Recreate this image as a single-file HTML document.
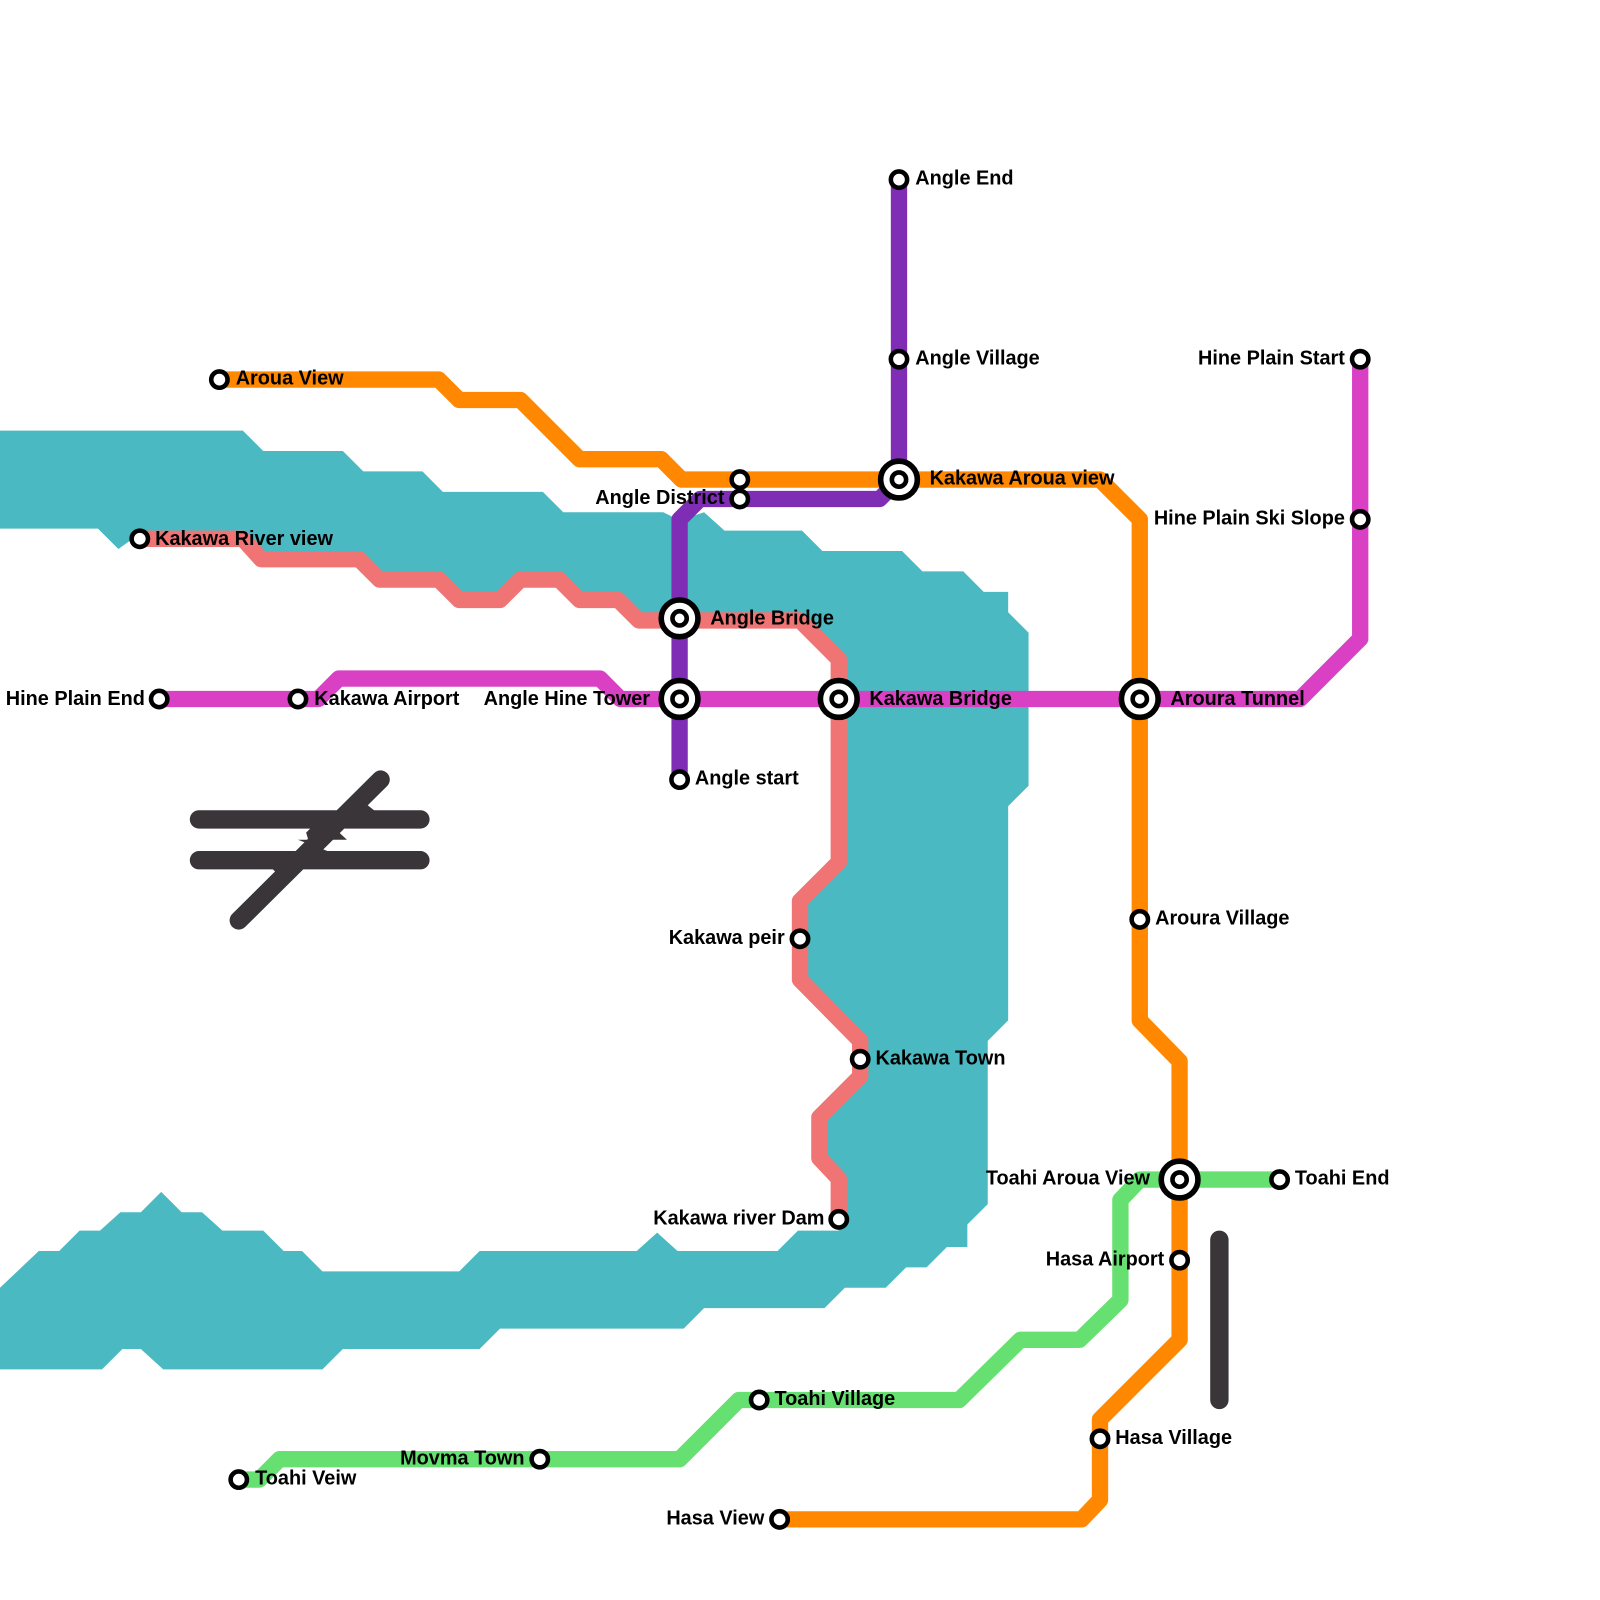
<!DOCTYPE html>
<html><head><meta charset="utf-8"><style>
html,body{margin:0;padding:0;background:#fff;}
svg{display:block}
text{font-family:"Liberation Sans",Arial,sans-serif;font-weight:bold;font-size:19.5px;fill:#000}
</style></head><body>
<svg width="1600" height="1600" viewBox="0 0 1568 1568" xmlns="http://www.w3.org/2000/svg">
<path fill="#4ab9c2" d="M0,422 L238,422 L258,442 L336,442 L356,462 L414,462 L434,482 L532,482 L552,502 L650,502 L666,510 L690,502 L710,520 L786,520 L806,540 L884,540 L904,560 L944,560 L964,580 L988,580 L988,600 L1008,620 L1008,770 L988,790 L988,1000 L968,1020 L968,1180 L948,1200 L948,1222 L928,1222 L908,1242 L888,1242 L868,1262 L828,1262 L808,1282 L690,1282 L670,1302 L490,1302 L470,1322 L336,1322 L316,1342 L160,1342 L138,1322 L120,1322 L100,1342 L0,1342 L0,1262 L38,1226 L58,1226 L78,1206 L98,1206 L118,1188 L138,1188 L158,1168 L178,1188 L198,1188 L218,1206 L258,1206 L278,1226 L296,1226 L316,1246 L450,1246 L470,1226 L624,1226 L644,1208 L664,1226 L762,1226 L782,1206 L822,1206 L822,1155 L803,1135 L803,1095 L843,1055 L843,1020 L784,960 L784,883 L822,845 L822,646 L784,608 L626,608 L606,588 L568,588 L548,568 L510,568 L490,588 L450,588 L430,568 L372,568 L352,548 L256,548 L238,528 L130,528 L116,538 L96,518 L0,518 Z"/>
<g fill="none" stroke-width="16" stroke-linejoin="round">
<path stroke="#f07474" d="M137,528 L238,528 L256,548 L352,548 L372,568 L430,568 L450,588 L490,588 L510,568 L548,568 L568,588 L606,588 L626,608 L784,608 L822,646 L822,845 L784,883 L784,960 L843,1020 L843,1055 L803,1095 L803,1135 L822,1155 L822,1195"/>
<path stroke="#ff8800" d="M215,372 L430,372 L450,392 L510,392 L568,450 L648,450 L668,470 L1078,470 L1117,509 L1117,1000 L1156,1040 L1156,1313 L1078,1391 L1078,1470 L1060,1489 L764,1489"/>
<path stroke="#7f2db5" d="M881,176 L881,470 L862,489 L686,489 L666,509 L666,764"/>
<path stroke="#d940c4" d="M156,685 L312,685 L332,665 L588,665 L608,685 L1274,685 L1333,626 L1333,352"/>
<path stroke="#66e070" d="M234,1450 L254,1450 L274,1430 L666,1430 L724,1372 L940,1372 L1000,1313 L1058,1313 L1098,1274 L1098,1176 L1117,1156 L1254,1156"/>
<g stroke="#3a3538" stroke-linecap="round" stroke-width="18">
<path d="M195,803 L412,803 M195,843 L412,843 M234,902 L373,764"/>
<path d="M1195,1215 L1195,1372"/>
</g>
</g>
<path fill="#3a3538" d="M355,785 L378,803 L350,803Z M292,823 L340,823 L326,810 L306,810 L300,816 L306,836 L326,836Z M258,843 L285,843 L278,862Z"/>
<g fill="#fff" stroke="#000" stroke-width="4.5">
<circle cx="215" cy="372" r="8"/><circle cx="137" cy="528" r="8"/><circle cx="156" cy="685" r="8"/><circle cx="292" cy="685" r="8"/>
<circle cx="666" cy="764" r="8"/><circle cx="725" cy="470" r="8"/><circle cx="725" cy="489" r="8"/><circle cx="881" cy="176" r="8"/>
<circle cx="881" cy="352" r="8"/><circle cx="1333" cy="352" r="8"/><circle cx="1333" cy="509" r="8"/><circle cx="1117" cy="901" r="8"/>
<circle cx="784" cy="920" r="8"/><circle cx="843" cy="1038" r="8"/><circle cx="822" cy="1195" r="8"/><circle cx="1156" cy="1235" r="8"/>
<circle cx="1254" cy="1156" r="8"/><circle cx="744" cy="1372" r="8"/><circle cx="529" cy="1430" r="8"/><circle cx="234" cy="1450" r="8"/>
<circle cx="1078" cy="1410" r="8"/><circle cx="764" cy="1489" r="8"/>
</g>
<g fill="#fff" stroke="#000">
<g stroke-width="5.5"><circle cx="666" cy="606" r="18"/><circle cx="666" cy="685" r="18"/><circle cx="822" cy="685" r="18"/><circle cx="881" cy="470" r="18"/><circle cx="1117" cy="685" r="18"/><circle cx="1156" cy="1156" r="18"/></g>
<g stroke-width="4.5"><circle cx="666" cy="606" r="7"/><circle cx="666" cy="685" r="7"/><circle cx="822" cy="685" r="7"/><circle cx="881" cy="470" r="7"/><circle cx="1117" cy="685" r="7"/><circle cx="1156" cy="1156" r="7"/></g>
</g>
<g>
<text x="231" y="377">Aroua View</text>
<text x="152" y="534">Kakawa River view</text>
<text x="142" y="691" text-anchor="end">Hine Plain End</text>
<text x="308" y="691">Kakawa Airport</text>
<text x="637" y="691" text-anchor="end">Angle Hine Tower</text>
<text x="696" y="612">Angle Bridge</text>
<text x="681" y="769">Angle start</text>
<text x="710" y="494" text-anchor="end">Angle District</text>
<text x="897" y="181">Angle End</text>
<text x="897" y="357">Angle Village</text>
<text x="911" y="475">Kakawa Aroua view</text>
<text x="852" y="691">Kakawa Bridge</text>
<text x="1147" y="691">Aroura Tunnel</text>
<text x="1318" y="357" text-anchor="end">Hine Plain Start</text>
<text x="1318" y="514" text-anchor="end">Hine Plain Ski Slope</text>
<text x="1132" y="906">Aroura Village</text>
<text x="769" y="925" text-anchor="end">Kakawa peir</text>
<text x="858" y="1043">Kakawa Town</text>
<text x="808" y="1200" text-anchor="end">Kakawa river Dam</text>
<text x="1127" y="1161" text-anchor="end">Toahi Aroua View</text>
<text x="1269" y="1161">Toahi End</text>
<text x="1141" y="1240" text-anchor="end">Hasa Airport</text>
<text x="1093" y="1415">Hasa Village</text>
<text x="749" y="1494" text-anchor="end">Hasa View</text>
<text x="759" y="1377">Toahi Village</text>
<text x="514" y="1435" text-anchor="end">Movma Town</text>
<text x="250" y="1455">Toahi Veiw</text>
</g>
</svg>
</body></html>
